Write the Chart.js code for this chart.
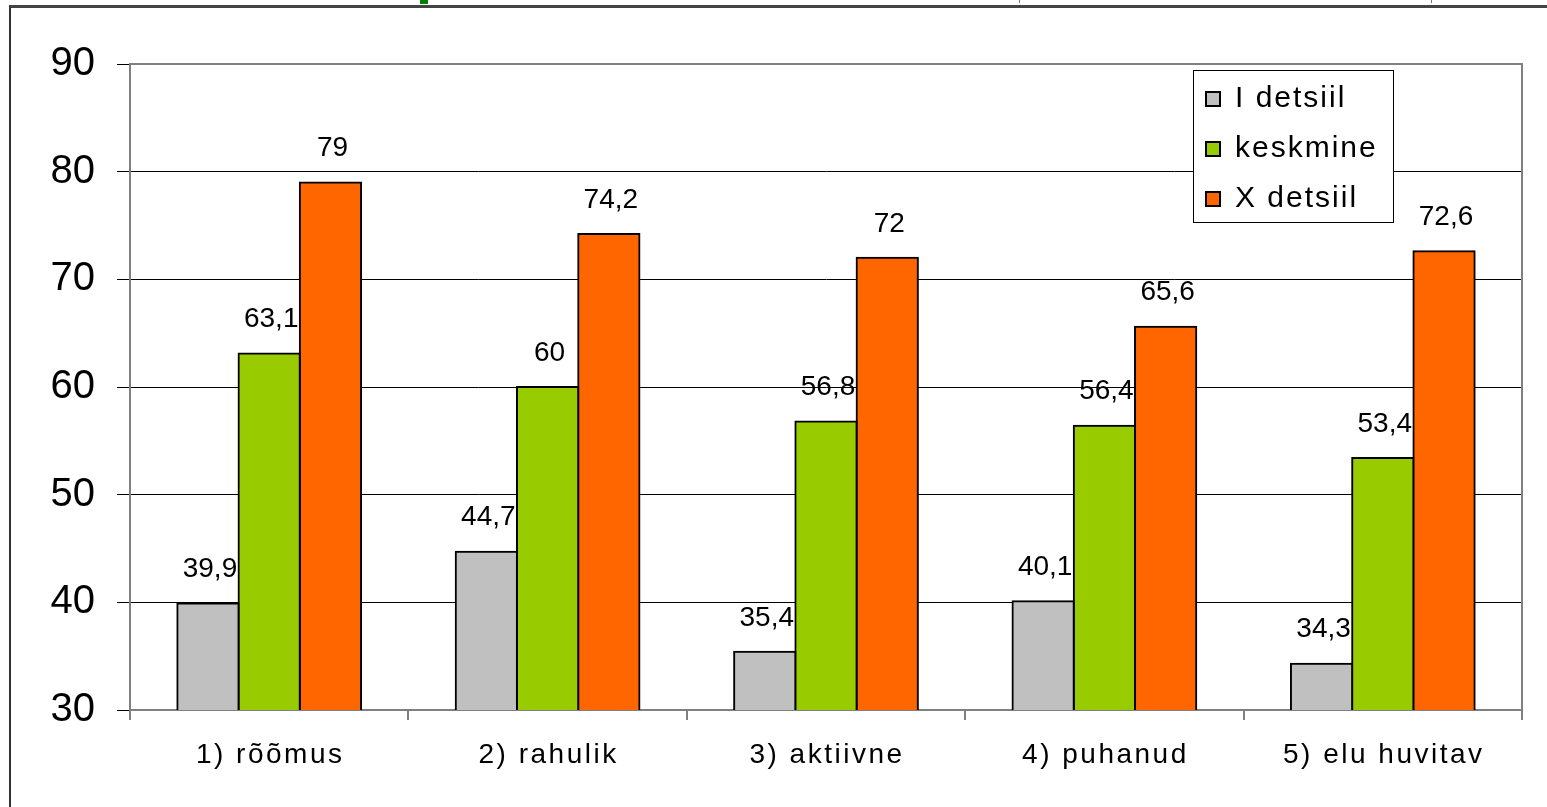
<!DOCTYPE html>
<html>
<head>
<meta charset="utf-8">
<script src="https://cdn.jsdelivr.net/npm/chart.js@4.4.0/dist/chart.umd.min.js"></script>
<style>
  body { margin: 0; background: #fff; }
  #wrap { position: relative; width: 1547px; height: 807px; overflow: hidden; }
  #frame { position: absolute; left: 9px; top: 5px; width: 1560px; height: 820px;
           border-left: 2px solid #333; border-top: 3px solid #444; }
  #mark { position: absolute; left: 420px; top: 0; width: 8px; height: 4px; background: #008000; }
  .tick { position: absolute; top: 0; width: 1px; height: 3px; background: #777; }
  canvas { position: absolute; left: 0; top: 0; }
</style>
</head>
<body>
<div id="wrap">
  <div id="frame"></div>
  <div id="mark"></div>
  <div class="tick" style="left:1019px"></div>
  <div class="tick" style="left:1431px"></div>
  <canvas id="myChart" width="1547" height="807"></canvas>
</div>
<script>
const categories = ['1) rõõmus', '2) rahulik', '3) aktiivne', '4) puhanud', '5) elu huvitav'];
const seriesNames = ['I detsiil', 'keskmine', 'X detsiil'];
const lowDecile = [39.9, 44.7, 35.4, 40.1, 34.3];
const average = [63.1, 60, 56.8, 56.4, 53.4];
const highDecile = [79, 74.2, 72, 65.6, 72.6];
const seriesColors = ['#c0c0c0', '#99cc00', '#ff6600'];
const yTicks = [30, 40, 50, 60, 70, 80, 90];

const FONT = '"Liberation Sans", Arial, sans-serif';

// value labels above bars, with comma decimals
const valueLabels = {
  id: 'valueLabels',
  afterDatasetsDraw(chart) {
    const ctx = chart.ctx;
    ctx.save();
    ctx.font = '28px ' + FONT;
    ctx.fillStyle = '#000';
    ctx.textAlign = 'center';
    ctx.textBaseline = 'middle';
    chart.data.datasets.forEach((ds, i) => {
      chart.getDatasetMeta(i).data.forEach((bar, j) => {
        const txt = String(ds.data[j]).replace('.', ',');
        ctx.fillText(txt, bar.x + 2, bar.y - 34);
      });
    });
    ctx.restore();
  }
};

// plot frame, category labels (spaced out) and legend box inside the plot
const plotExtras = {
  id: 'plotExtras',
  beforeDatasetsDraw(chart) {
    const a = chart.chartArea;
    const ctx = chart.ctx;
    ctx.save();
    ctx.strokeStyle = '#808080';
    ctx.lineWidth = 2;
    ctx.beginPath();
    ctx.moveTo(a.left, a.top);
    ctx.lineTo(a.right, a.top);
    ctx.lineTo(a.right, a.bottom);
    ctx.stroke();
    ctx.restore();
  },
  afterDraw(chart) {
    const ctx = chart.ctx;
    ctx.save();
    // category labels
    ctx.font = '28px ' + FONT;
    ctx.letterSpacing = '2.5px';
    ctx.fillStyle = '#000';
    ctx.textAlign = 'center';
    ctx.textBaseline = 'middle';
    const xs = chart.scales.x;
    categories.forEach((c, i) => {
      ctx.fillText(c, xs.getPixelForValue(i) + 1, 755);
    });
    // legend
    const x = 1193, y = 70, w = 200, h = 152;
    ctx.fillStyle = '#fff';
    ctx.fillRect(x, y, w, h);
    ctx.strokeStyle = '#000';
    ctx.lineWidth = 1;
    ctx.strokeRect(x + 0.5, y + 0.5, w, h);
    ctx.font = '30px ' + FONT;
    ctx.letterSpacing = '2px';
    ctx.textAlign = 'left';
    ctx.textBaseline = 'middle';
    chart.data.datasets.forEach((ds, i) => {
      const cy = y + 29 + i * 50;
      ctx.fillStyle = ds.backgroundColor;
      ctx.fillRect(x + 13, cy - 7, 14, 14);
      ctx.lineWidth = 2;
      ctx.strokeStyle = '#000';
      ctx.strokeRect(x + 13, cy - 7, 14, 14);
      ctx.fillStyle = '#000';
      ctx.fillText(ds.label, x + 42, cy);
    });
    ctx.restore();
  }
};

const ctx = document.getElementById('myChart').getContext('2d');
const chart = new Chart(ctx, {
  type: 'bar',
  data: {
    labels: categories,
    datasets: [lowDecile, average, highDecile].map((d, i) => ({
      label: seriesNames[i],
      data: d,
      backgroundColor: seriesColors[i],
      borderColor: '#000',
      borderWidth: 2,
      borderSkipped: 'bottom',
      inflateAmount: 1,
      categoryPercentage: 0.66,
      barPercentage: 1.0
    }))
  },
  options: {
    responsive: false,
    animation: false,
    layout: { padding: { left: 0, right: 25, top: 64, bottom: 0 } },
    plugins: {
      legend: { display: false },
      tooltip: { enabled: false }
    },
    scales: {
      x: {
        grid: {
          offset: true,
          drawOnChartArea: false,
          drawTicks: true,
          tickLength: 10,
          color: '#808080',
          lineWidth: 2
        },
        border: { color: '#808080', width: 2 },
        ticks: { font: { family: FONT, size: 28 }, color: 'rgba(0,0,0,0)', padding: 14 },
        afterFit: axis => { axis.height = 97; }
      },
      y: {
        min: 30,
        max: 90,
        afterBuildTicks: axis => { axis.ticks = yTicks.map(v => ({ value: v })); },
        grid: { color: '#000', lineWidth: 1, tickLength: 13, drawTicks: true },
        border: { color: '#808080', width: 2 },
        ticks: { font: { family: FONT, size: 40 }, color: '#000', padding: 22 },
        afterFit: axis => { axis.width = 130; }
      }
    }
  },
  plugins: [valueLabels, plotExtras]
});
</script>
</body>
</html>
